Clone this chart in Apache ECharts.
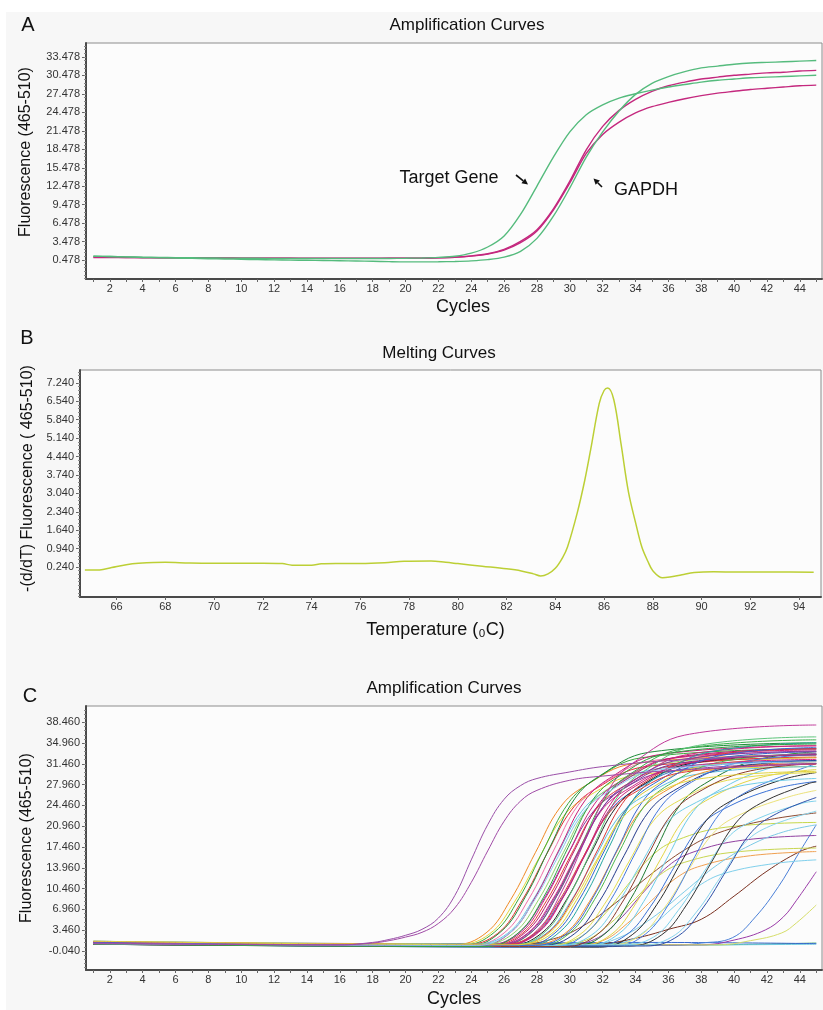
<!DOCTYPE html>
<html>
<head>
<meta charset="utf-8">
<title>qPCR amplification and melting curves</title>
<script src="https://cdn.jsdelivr.net/npm/echarts@6/dist/echarts.min.js"></script>
<style>
  html, body { margin: 0; padding: 0; background: #f7f7f7; }
  #chart { width: 823px; height: 1010px; }
</style>
</head>
<body>
<div id="chart"></div>
<script>
// ---- panel A: amplification, target gene vs GAPDH ----
const cycles = [1,2,3,4,5,6,7,8,9,10,11,12,13,14,15,16,17,18,19,20,21,22,23,24,25,26,27,28,29,30,31,32,33,34,35,36,37,38,39,40,41,42,43,44,45]
const targetGene = [1.1,1.05,1.0,0.95,0.92,0.88,0.85,0.82,0.8,0.78,0.76,0.74,0.73,0.72,0.72,0.72,0.72,0.73,0.74,0.76,0.82,0.92,1.1,1.6,2.6,4.4,7.9,12.5,17.2,21.3,24.1,25.7,26.8,27.5,28.1,28.6,29.0,29.4,29.7,29.9,30.1,30.2,30.3,30.4,30.5]
const gapdhGreen = [1.1,1.05,1.0,0.9,0.85,0.8,0.75,0.7,0.65,0.6,0.55,0.5,0.47,0.44,0.4,0.36,0.32,0.28,0.22,0.18,0.18,0.2,0.25,0.35,0.55,0.95,1.9,4.0,7.6,12.2,17.2,21.3,24.7,27.4,29.2,30.3,31.1,31.7,32.0,32.3,32.5,32.6,32.7,32.8,32.9]
const gapdhMagenta1 = [0.9,0.9,0.88,0.86,0.85,0.84,0.83,0.82,0.8,0.79,0.78,0.77,0.76,0.75,0.75,0.75,0.75,0.75,0.76,0.78,0.8,0.85,0.95,1.15,1.5,2.2,3.5,5.4,8.8,13.3,18.4,22.2,24.8,26.6,27.9,28.8,29.4,29.9,30.2,30.5,30.7,30.9,31.0,31.2,31.3]
const gapdhMagenta2 = [0.95,0.92,0.9,0.88,0.86,0.85,0.84,0.82,0.81,0.8,0.79,0.78,0.77,0.76,0.76,0.76,0.8,0.77,0.77,0.78,0.8,0.84,0.93,1.12,1.45,2.1,3.3,5.2,8.6,13.0,17.8,20.9,22.9,24.4,25.4,26.1,26.7,27.2,27.6,27.9,28.2,28.4,28.6,28.8,28.9]

// ---- panel B: melting curve ----
const meltTemp = [64.7,65.3,65.8,66.4,66.9,68,69,70,71,72,72.8,73.2,74,74.4,75,76,77,77.8,78.9,79.5,80,81,82,82.6,83.1,83.4,83.7,84,84.3,84.5,84.9,85.2,85.45,85.8,86,86.15,86.4,86.7,87,87.3,87.55,87.8,88,88.4,88.7,89.2,89.7,90.5,91.5,93,94.6]
const meltDeriv = [0.13,0.13,0.22,0.33,0.38,0.42,0.39,0.38,0.38,0.38,0.37,0.31,0.31,0.36,0.37,0.37,0.4,0.46,0.47,0.42,0.37,0.27,0.17,0.09,-0.02,-0.1,-0.02,0.19,0.6,1.0,2.3,3.5,4.7,6.45,6.95,7.05,6.6,4.9,3.1,1.9,1.0,0.45,0.1,-0.17,-0.14,-0.05,0.03,0.06,0.05,0.05,0.04]

// ---- panel C: all samples, [cycle, fluorescence] ----
const earlyC = [
  [[1,1.2],[16,1.0],[18,1.4],[19,1.9],[20,2.6],[21,3.6],[22,5.5],[23,9.3],[24,15.3],[25,21.2],[26,25.5],[27,27.8],[28,29.0],[30,30.1],[32,31.0],[36,32.0],[45,33.2]],
  [[1,1.3],[16,1.0],[18,1.3],[19,1.7],[20,2.3],[21,3.1],[22,4.6],[23,7.2],[24,11.5],[25,16.8],[26,21.8],[27,25.2],[28,27.0],[30,28.7],[32,29.4],[36,30.3],[45,31.5]]
]
const clusterC = [
  [[1,1.2],[22.9,1.0],[24.9,3.0],[26.4,8.6],[27.9,16.5],[29.4,24.1],[30.9,27.7],[33.9,31.5],[45,33]],
  [[1,1.4],[23.1,1.0],[25.1,2.8],[26.6,8.1],[28.1,15.5],[29.6,22.6],[31.1,26.0],[34.1,29.6],[45,31]],
  [[1,1.3],[23.4,0.9],[25.4,3.1],[26.9,8.8],[28.4,17],[29.9,24.8],[31.4,28.6],[34.4,32.5],[45,34]],
  [[1,1.5],[23.6,1.0],[25.6,2.9],[27.1,8.5],[28.6,16.3],[30.1,23.7],[31.6,27.3],[34.6,31],[45,32.5]],
  [[1,1.1],[23.8,0.8],[25.8,3.2],[27.3,9.1],[28.8,17.5],[30.3,25.6],[31.8,29.4],[34.8,33.4],[45,35]],
  [[1,1.3],[24,0.9],[26,3.0],[27.5,8.7],[29,16.8],[30.5,24.5],[32,28.1],[35,32],[45,33.5]],
  [[1,1.6],[24.2,1.1],[26.2,2.9],[27.7,8.3],[29.2,16],[30.7,23.4],[32.2,26.9],[35.2,30.6],[45,32]],
  [[1,1.2],[24.4,0.8],[26.4,3.1],[27.9,9.0],[29.4,17.3],[30.9,25.2],[32.4,29],[35.4,33],[45,34.5]],
  [[1,1.4],[24.6,1.0],[26.6,3.0],[28.1,8.6],[29.6,16.5],[31.1,24.1],[32.6,27.7],[35.6,31.5],[45,33]],
  [[1,1.2],[24.8,0.9],[26.8,2.8],[28.3,8.2],[29.8,15.8],[31.3,23],[32.8,26.5],[35.8,30.1],[45,31.5]],
  [[1,1.5],[25,1.0],[27,3.0],[28.5,8.8],[30,16.9],[31.5,24.7],[33,28.4],[36,32.3],[45,33.8]],
  [[1,1.3],[25.1,0.9],[27.1,2.9],[28.6,8.5],[30.1,16.3],[31.6,23.8],[33.1,27.4],[36.1,31.1],[45,32.6]],
  [[1,1.1],[25.3,0.8],[27.3,3.1],[28.8,8.8],[30.3,17],[31.8,24.8],[33.3,28.6],[36.3,32.5],[45,34]],
  [[1,1.4],[25.5,1.0],[27.5,3.0],[29,8.6],[30.5,16.5],[32,24.1],[33.5,27.7],[36.5,31.5],[45,33]],
  [[1,1.2],[25.7,0.9],[27.7,3.2],[29.2,9.2],[30.7,17.8],[32.2,25.9],[33.7,29.8],[36.7,33.9],[45,35.5]],
  [[1,1.3],[25.9,0.8],[27.9,2.9],[29.4,8.3],[30.9,16],[32.4,23.4],[33.9,26.9],[36.9,30.6],[45,32]],
  [[1,1.5],[26.1,1.0],[28.1,3.1],[29.6,9],[31.1,17.3],[32.6,25.2],[34.1,29],[37.1,33],[45,34.5]],
  [[1,1.2],[26.3,0.9],[28.3,3.0],[29.8,8.6],[31.3,16.5],[32.8,24.1],[34.3,27.7],[37.3,31.5],[45,33]],
  [[1,1.4],[26.5,1.0],[28.5,2.8],[30,8.1],[31.5,15.5],[33,22.6],[34.5,26],[37.5,29.6],[45,31]],
  [[1,1.3],[26.7,0.9],[28.7,3.1],[30.2,8.8],[31.7,17],[33.2,24.8],[34.7,28.6],[37.7,32.5],[45,34]],
  [[1,1.6],[26.9,1.1],[28.9,2.9],[30.4,8.5],[31.9,16.3],[33.4,23.7],[34.9,27.3],[37.9,31],[45,32.5]],
  [[1,1.1],[27.1,0.7],[29.1,3.0],[30.6,8.7],[32.1,16.8],[33.6,24.5],[35.1,28.1],[38.1,32],[45,33.5]],
  [[1,1.3],[27.4,0.8],[29.4,3.2],[30.9,9.1],[32.4,17.5],[33.9,25.6],[35.4,29.4],[38.4,33.4],[45,35]],
  [[1,1.5],[27.7,1.0],[29.7,2.9],[31.2,8.3],[32.7,15.9],[34.2,23.2],[35.7,26.7],[38.7,30.4],[45,31.8]],
  [[1,1.2],[28,0.7],[30,3.0],[31.5,8.6],[33,16.6],[34.5,24.2],[36,27.9],[39,31.7],[45,33.2]],
  [[1,1.4],[28.3,0.9],[30.3,2.9],[31.8,8.3],[33.3,16],[34.8,23.4],[36.3,26.9],[39.3,30.6],[45,32]],
  [[1,1.3],[28.6,0.8],[30.6,2.7],[32.1,7.8],[33.6,15],[35.1,21.9],[36.6,25.2],[39.6,28.7],[45,30]],
  [[1,1.2],[29,0.6],[31,3.0],[32.5,8.6],[34,16.5],[35.5,24.1],[37,27.7],[40,31.5],[45,33]],
  [[1,1.5],[29.3,0.9],[31.3,2.6],[32.8,7.5],[34.3,14.5],[35.8,21.2],[37.3,24.4],[40.3,27.7],[45,29]],
  [[1,1.1],[29.7,0.7],[31.7,2.8],[33.2,8.2],[34.7,15.8],[36.2,23],[37.7,26.5],[40.7,30.1],[45,31.5]],
  [[1,1.2],[26.5,0.9],[28.5,3.2],[30,9.4],[31.5,18],[33,26.3],[34.5,30.2],[37.5,34.4],[45,36]],
  [[1,1.4],[26,0.9],[28,3.4],[29.5,9.9],[31,19],[32.5,27.7],[34,31.9],[37,36.3],[45,38]],
  [[1,1.2],[25.4,0.8],[27.4,2.9],[28.9,8.4],[30.4,16.1],[31.9,23.5],[33.4,27],[36.4,30.8],[45,32.2]],
  [[1,1.3],[25.6,0.9],[27.6,3.0],[29.1,8.7],[30.6,16.8],[32.1,24.5],[33.6,28.2],[36.6,32.1],[45,33.6]],
  [[1,1.5],[25.8,1.0],[27.8,2.8],[29.3,8.2],[30.8,15.7],[32.3,22.9],[33.8,26.4],[36.8,30],[45,31.4]],
  [[1,1.1],[24.9,0.7],[26.9,3.1],[28.4,9],[29.9,17.4],[31.4,25.4],[32.9,29.2],[35.9,33.2],[45,34.8]],
  [[1,1.3],[26,0.9],[28,3.0],[29.5,8.6],[31,16.5],[32.5,24.1],[34,27.7],[37,31.5],[45,33]],
  [[1,1.4],[27.9,0.9],[29.9,3.1],[31.4,8.9],[32.9,17.1],[34.4,25],[35.9,28.7],[38.9,32.7],[45,34.2]],
  [[1,1.6],[26.6,1.0],[28.6,2.7],[30.1,7.9],[31.6,15.1],[33.1,22],[34.6,25.4],[37.6,28.8],[45,30.2]],
  [[1,1.2],[24.3,0.9],[26.3,2.9],[27.8,8.3],[29.3,15.9],[30.8,23.2],[32.3,26.7],[35.3,30.4],[45,31.8]]
]
const lateC = [
  [[1,1.3],[30.2,0.8],[32.2,3.0],[33.7,8.7],[35.2,16.8],[36.7,24.5],[38.2,28.1],[41.2,32],[45,33.5]],
  [[1,1.2],[30.5,0.8],[32.5,2.7],[34,7.9],[35.5,15.3],[37,22.3],[38.5,25.6],[41.5,29.1],[45,30.5]],
  [[1,1.4],[31,0.9],[33,2.9],[34.5,8.3],[36,16],[37.5,23.4],[39,26.9],[42,30.6],[45,32]],
  [[1,1.3],[31.4,0.7],[33.4,2.6],[34.9,7.4],[36.4,14.3],[37.9,20.8],[39.4,23.9],[42.4,27.2],[45,28.5]],
  [[1,1.1],[31.8,0.6],[33.8,2.7],[35.3,7.8],[36.8,15],[38.3,21.9],[39.8,25.2],[42.8,28.7],[45,30]],
  [[1,1.5],[32.2,0.9],[34.2,2.4],[35.7,7],[37.2,13.5],[38.7,19.7],[40.2,22.7],[43.2,25.8],[45,27]],
  [[1,1.2],[32.6,0.7],[34.6,2.8],[36.1,8.2],[37.6,15.8],[39.1,23],[40.6,26.5],[43.6,30.1],[45,31.5]],
  [[1,1.4],[33.1,1.0],[35.1,2.3],[36.6,6.8],[38.1,13],[39.6,19],[41.1,21.8],[44.1,24.8],[45,25.2]],
  [[1,1.3],[33.6,0.8],[35.6,2.7],[37.1,7.7],[38.6,14.8],[40.1,21.5],[41.6,24.8],[44.6,28.2],[45,28.4]],
  [[1,1.2],[34.2,0.9],[36.2,2.3],[37.7,6.5],[39.2,12.5],[40.7,18.3],[42.2,21],[45,23.5]],
  [[1,1.5],[34.6,0.8],[36.6,2.5],[38.1,7.2],[39.6,13.8],[41.1,20.1],[42.6,23.1],[45,25.8]]
]
const lowC = [
  [[1,1.2],[28.5,0.8],[30.5,2.1],[32,5.8],[33.5,11],[35,16],[36.5,18.6],[39.5,20.8],[45,21.6]],
  [[1,1.3],[29.5,0.9],[31.5,1.9],[33,5.2],[34.5,9.9],[36,14.3],[37.5,16.6],[40.5,18.6],[45,19.4]],
  [[1,1.4],[30,0.8],[32,1.7],[33.5,4.6],[35,8.5],[36.5,12.3],[38,14.3],[41,16],[45,16.7]],
  [[1,1.2],[31.5,0.9],[33.5,1.6],[35,4.2],[36.5,7.8],[38,11.2],[39.5,13.1],[42.5,14.7],[45,15.3]],
  [[1,1.5],[29,0.9],[31,1.8],[32.5,4.7],[34,8.8],[35.5,12.8],[37,14.9],[40,16.6],[45,17.3]],
  [[1,1.3],[26,0.8],[29,2.0],[31,4.5],[33,8.5],[35,13],[37,17],[39,19.8],[42,22],[45,23.2]],
  [[1,1.4],[31,0.9],[33,2.2],[35,5.5],[37,10],[39,14.5],[41,17.8],[43,20],[45,21.2]]
]
const tailC = [
  [[1,1.2],[28,0.8],[32,1.2],[34,2.1],[36,3.6],[38,5.3],[40,9.2],[42,13.4],[44,16.7],[45,17.6]],
  [[1,1.1],[36,0.9],[38,1.3],[39.9,2.2],[41.3,5.7],[42.7,10.8],[43.8,15.8],[45,21.2]],
  [[1,1.3],[38,1.0],[40,1.8],[41.9,3.5],[43,5.7],[43.8,8.5],[45,13.3]],
  [[1,1.2],[39,1.0],[41,1.7],[42.9,3.0],[43.8,4.7],[45,7.7]]
]
const flatC = [
  [[1,1.5],[10,1.2],[20,1.1],[30,1.2],[38,1.0],[45,1.3]],
  [[1,1.3],[15,1.0],[30,0.9],[45,1.1]],
  [[1,1.6],[20,1.2],[35,1.4],[45,1.2]]
]

// ---- tick labels ----
const yTicksA = [0.478, 3.478, 6.478, 9.478, 12.478, 15.478, 18.478, 21.478, 24.478, 27.478, 30.478, 33.478]
const xTicksCycles = [2, 4, 6, 8, 10, 12, 14, 16, 18, 20, 22, 24, 26, 28, 30, 32, 34, 36, 38, 40, 42, 44]
const yTicksB = [0.24, 0.94, 1.64, 2.34, 3.04, 3.74, 4.44, 5.14, 5.84, 6.54, 7.24]
const xTicksTemp = [66, 68, 70, 72, 74, 76, 78, 80, 82, 84, 86, 88, 90, 92, 94]
const yTicksC = [-0.04, 3.46, 6.96, 10.46, 13.96, 17.46, 20.96, 24.46, 27.96, 31.46, 34.96, 38.46]

// ---- styles ----
const FONT = '"Liberation Sans", Arial, sans-serif'
const AXIS_DARK = '#4a4a4a'
const colorsEarly = ['#9a4fa8', '#a04aa6']
const colorsCluster = ['#f08a24', '#e6d83a', '#3aaa3a', '#e03030', '#1e8c3a', '#ee6fa8', '#66c6e6', '#c81e78', '#8fd46a', '#8e3fa0',
  '#d0237f', '#e23b3b', '#b81a6e', '#7a3a9a', '#38b04a', '#3b6fd0', '#cc2a80', '#222222', '#5cc0e0', '#d93636',
  '#dccf3a', '#3366cc', '#23a6a0', '#f0902a', '#4cb84c', '#253a8c', '#e5dc50', '#4477dd', '#72cde8', '#8b3b2b',
  '#5cc47a', '#c0399a', '#d02a86', '#8a3aa0', '#e03a3a', '#2ea040', '#c8207a', '#3a66d0', '#e2d440', '#8cc8ee']
const colorsLate = ['#1d7a30', '#e3d646', '#6ccbe8', '#3b72d6', '#2a2a2a', '#ece27a', '#4a7fe0', '#7fd2ec', '#333333', '#88d4ee', '#2c4fa8']
const colorsLow = ['#c6d84a', '#9040a0', '#f0a050', '#80d0ec', '#c8d650', '#8b4a30', '#7ccbe6']
const colorsTail = ['#7a3020', '#4a80d8', '#9a3aa8', '#d6de6a']
const colorsFlat = ['#3aa05a', '#6cc8e0', '#3a6ad0']

const minorTicks = ( major, min, max ) => {
  const step = ( major[1] - major[0] ) / 5
  const out = []
  for ( let v = major[0]; v >= min; v -= step ) out.push( v )
  for ( let v = major[0] + step; v <= max; v += step ) out.push( v )
  return out
}

const grids = [
  { left : 86, top : 43, width : 736, height : 236 },
  { left : 80, top : 370, width : 741, height : 227 },
  { left : 86, top : 706, width : 736, height : 264 }
].map( g => ( {
  ...g,
  show : true,
  backgroundColor : '#fcfcfc',
  borderColor : '#8c8c8c',
  borderWidth : 1,
  containLabel : false,
  outerBoundsMode : 'none'
} ) )

const labelStyle = { color : '#333', fontSize : 11, fontFamily : FONT }

const makeX = ( gridIndex, min, max, labels, ticks, name, nameGap, shift ) => ( {
  type : 'value',
  gridIndex,
  min,
  max,
  name,
  nameLocation : 'middle',
  nameGap,
  nameTextStyle : { color : '#111', fontSize : 18, fontFamily : FONT, padding : shift > 0 ? [0, 0, 0, shift] : [0, -shift, 0, 0] },
  axisLine : { show : true, onZero : false, lineStyle : { color : AXIS_DARK, width : 2 } },
  axisTick : { show : true, length : 3, customValues : ticks, lineStyle : { color : '#666' } },
  axisLabel : { ...labelStyle, margin : 4, customValues : labels },
  splitLine : { show : false }
} )

const makeY = ( gridIndex, min, max, labels, name, nameGap, shift ) => ( {
  type : 'value',
  gridIndex,
  position : 'left',
  min,
  max,
  name,
  nameLocation : 'middle',
  nameGap,
  nameTextStyle : { color : '#111', fontSize : 16, fontFamily : FONT, padding : [0, 0, 0, shift] },
  axisLine : { show : true, onZero : false, lineStyle : { color : AXIS_DARK, width : 2 } },
  axisTick : { show : true, length : 4, customValues : labels, lineStyle : { color : '#666' } },
  axisLabel : { ...labelStyle, margin : 6, customValues : labels, formatter : v => v.toFixed( 3 ) },
  splitLine : { show : false }
} )

const makeMinorY = ( gridIndex, min, max, labels ) => ( {
  type : 'value',
  gridIndex,
  position : 'left',
  offset : 0,
  min,
  max,
  axisLine : { show : false, onZero : false },
  axisTick : { show : true, length : 2, customValues : minorTicks( labels, min, max ), lineStyle : { color : '#888' } },
  axisLabel : { show : false },
  splitLine : { show : false }
} )

const oneToN = []
for ( let i = 1; i <= 45; i++ ) oneToN.push( i )

const xAxes = [
  makeX( 0, 0.55, 45.35, xTicksCycles, oneToN, 'Cycles', 19, 18 ),
  makeX( 1, 64.5, 94.9, xTicksTemp, xTicksTemp, 'Temperature (₀C)', 24, -30 ),
  makeX( 2, 0.55, 45.35, xTicksCycles, oneToN, 'Cycles', 20, 0 )
]
const yAxes = [
  makeY( 0, -2.6, 35.75, yTicksA, 'Fluorescence (465-510)', 52, 18 ),
  makeY( 1, -0.9, 7.73, yTicksB, '-(d/dT) Fluorescence ( 465-510)', 43, 10 ),
  makeY( 2, -3.24, 41.2, yTicksC, 'Fluorescence (465-510)', 51, 0 ),
  makeMinorY( 0, -2.6, 35.75, yTicksA ),
  makeMinorY( 1, -0.9, 7.73, yTicksB ),
  makeMinorY( 2, -3.24, 41.2, yTicksC )
]

const lineA = ( values, color ) => ( {
  type : 'line',
  xAxisIndex : 0,
  yAxisIndex : 0,
  data : cycles.map( ( c, i ) => [c, values[i]] ),
  showSymbol : false,
  symbol : 'none',
  smooth : 0.3,
  silent : true,
  lineStyle : { color, width : 1.4 }
} )

const series = [
  lineA( gapdhMagenta2, '#c4287e' ),
  lineA( gapdhMagenta1, '#c4287e' ),
  lineA( targetGene, '#55bb7d' ),
  lineA( gapdhGreen, '#55bb7d' ),
  {
    type : 'line',
    xAxisIndex : 1,
    yAxisIndex : 1,
    data : meltTemp.map( ( t, i ) => [t, meltDeriv[i]] ),
    symbol : 'none',
    smooth : 0.35,
    silent : true,
    lineStyle : { color : '#bccf35', width : 1.5 }
  }
]

const groupsC = [
  [flatC, colorsFlat],
  [tailC, colorsTail],
  [lowC, colorsLow],
  [lateC, colorsLate],
  [clusterC, colorsCluster],
  [earlyC, colorsEarly]
]
groupsC.forEach( ( [curves, colors] ) => {
  curves.forEach( ( pts, i ) => {
    series.push( {
      type : 'line',
      xAxisIndex : 2,
      yAxisIndex : 2,
      data : pts,
      symbol : 'none',
      smooth : 0.4,
      silent : true,
      lineStyle : { color : colors[i % colors.length], width : 1 }
    } )
  } )
} )

const text = ( x, y, t, size ) => ( {
  type : 'text',
  x,
  y,
  style : { text : t, fill : '#111', font : `${size}px ${FONT}`, textAlign : 'center', textVerticalAlign : 'middle' },
  z : 10
} )

const arrow = ( x1, y1, x2, y2 ) => {
  const len = Math.hypot( x2 - x1, y2 - y1 )
  const dx = ( x2 - x1 ) / len
  const dy = ( y2 - y1 ) / len
  const bx = x2 - dx * 6
  const by = y2 - dy * 6
  return [
    { type : 'line', shape : { x1, y1, x2 : bx, y2 : by }, style : { stroke : '#111', lineWidth : 1.6 }, z : 10 },
    {
      type : 'polygon',
      shape : { points : [[x2, y2], [bx - dy * 3, by + dx * 3], [bx + dy * 3, by - dx * 3]] },
      style : { fill : '#111' },
      z : 10
    }
  ]
}

const graphic = [
  { type : 'rect', shape : { x : 0, y : 0, width : 823, height : 12 }, style : { fill : '#ffffff' }, z : 0 },
  { type : 'rect', shape : { x : 0, y : 0, width : 6, height : 1010 }, style : { fill : '#ffffff' }, z : 0 },
  text( 28, 25, 'A', 20 ),
  text( 467, 25, 'Amplification Curves', 17 ),
  text( 27, 338, 'B', 20 ),
  text( 439, 353, 'Melting Curves', 17 ),
  text( 30, 696, 'C', 20 ),
  text( 444, 688, 'Amplification Curves', 17 ),
  text( 449, 178, 'Target Gene', 18 ),
  text( 646, 190, 'GAPDH', 18 ),
  ...arrow( 516, 175, 528, 184.5 ),
  ...arrow( 602, 187, 593.5, 178.5 )
]

const chart = echarts.init( document.getElementById( 'chart' ), null, { renderer : 'canvas' } )
chart.setOption( {
  backgroundColor : '#f7f7f7',
  animation : false,
  grid : grids,
  xAxis : xAxes,
  yAxis : yAxes,
  series,
  graphic
} )
</script>
</body>
</html>
